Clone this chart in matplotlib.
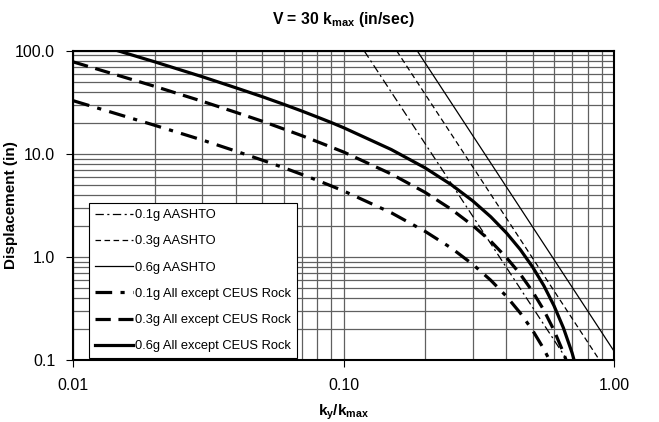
import matplotlib
matplotlib.use("Agg")
import matplotlib.pyplot as plt

plt.rcParams['font.family'] = ['Liberation Sans', 'DejaVu Sans']
plt.rcParams['mathtext.fontset'] = 'custom'
plt.rcParams['mathtext.rm'] = 'Liberation Sans'
plt.rcParams['mathtext.it'] = 'Liberation Sans:italic'
plt.rcParams['mathtext.bf'] = 'Liberation Sans:bold'
plt.rcParams['lines.scale_dashes'] = False

# AASHTO curves (straight lines on log-log), end points
aashto_01_ratio = [0.119, 0.671]
aashto_01_disp = [100.0, 0.1]
aashto_03_ratio = [0.157, 0.883]
aashto_03_disp = [100.0, 0.1]
aashto_06_ratio = [0.187, 1.0]
aashto_06_disp = [100.0, 0.122]

# "All except CEUS Rock" curves
ratio_01 = [0.01, 0.02, 0.03, 0.04, 0.05, 0.06, 0.07, 0.08, 0.09, 0.10,
            0.15, 0.20, 0.25, 0.30, 0.35, 0.40, 0.45, 0.50, 0.55, 0.60]
disp_01 = [32.7, 18.9, 13.6, 10.6, 8.68, 7.33, 6.31, 5.52, 4.88, 4.36,
           2.68, 1.77, 1.22, 0.849, 0.594, 0.415, 0.286, 0.194, 0.128, 0.0816]

ratio_03 = [0.01, 0.02, 0.03, 0.04, 0.05, 0.06, 0.07, 0.08, 0.09, 0.10,
            0.15, 0.20, 0.25, 0.30, 0.35, 0.40, 0.45, 0.50, 0.55, 0.60,
            0.65, 0.70]
disp_03 = [77.8, 45.1, 32.3, 25.2, 20.7, 17.4, 15.0, 13.1, 11.6, 10.4,
           6.37, 4.23, 2.90, 2.02, 1.42, 0.987, 0.681, 0.461, 0.305, 0.194,
           0.118, 0.0677]

ratio_06 = [0.01, 0.02, 0.03, 0.04, 0.05, 0.06, 0.07, 0.08, 0.09, 0.10,
            0.15, 0.20, 0.25, 0.30, 0.35, 0.40, 0.45, 0.50, 0.55, 0.60,
            0.65, 0.70, 0.75]
disp_06 = [134.6, 78.0, 55.9, 43.6, 35.8, 30.2, 26.0, 22.7, 20.1, 17.9,
           11.0, 7.31, 5.02, 3.50, 2.45, 1.71, 1.18, 0.798, 0.527, 0.336,
           0.205, 0.117, 0.0613]

x_ticks = [0.01, 0.1, 1.0]
x_tick_labels = ['0.01', '0.10', '1.00']
y_ticks = [0.1, 1.0, 10.0, 100.0]
y_tick_labels = ['0.1', '1.0', '10.0', '100.0']

fig = plt.figure(figsize=(6.59, 4.22), dpi=100)
ax = fig.add_axes([0.1112, 0.1469, 0.8205, 0.733])

thin = 0.9
thick = 2.3
ax.plot(aashto_01_ratio, aashto_01_disp, color='black', lw=thin,
        linestyle=(0, (6, 2.5, 1.5, 2.5)), label='0.1g AASHTO')
ax.plot(aashto_03_ratio, aashto_03_disp, color='black', lw=thin,
        linestyle=(0, (4, 2.5)), label='0.3g AASHTO')
ax.plot(aashto_06_ratio, aashto_06_disp, color='black', lw=thin,
        linestyle='-', label='0.6g AASHTO')
ax.plot(ratio_01, disp_01, color='black', lw=thick,
        linestyle=(0, (12, 6, 3, 6)), label='0.1g All except CEUS Rock')
ax.plot(ratio_03, disp_03, color='black', lw=thick,
        linestyle=(0, (11, 5.5)), label='0.3g All except CEUS Rock')
ax.plot(ratio_06, disp_06, color='black', lw=thick,
        linestyle='-', label='0.6g All except CEUS Rock')

ax.set_xscale('log')
ax.set_yscale('log')
ax.set_xlim(0.01, 1.0)
ax.set_ylim(0.1, 100.0)

ax.set_xticks(x_ticks)
ax.set_xticklabels(x_tick_labels)
ax.set_yticks(y_ticks)
ax.set_yticklabels(y_tick_labels)
ax.tick_params(axis='both', which='major', labelsize=11.5, length=5,
               width=0.8, direction='out', pad=8)
ax.tick_params(axis='both', which='minor', length=0)

ax.grid(True, which='both', color='#606060', linewidth=0.9)
ax.set_axisbelow(True)
for sp in ax.spines.values():
    sp.set_linewidth(1.5)
    sp.set_color('black')

ax.set_title(r'V = 30 k$_{\mathbf{max}}$ (in/sec)', fontsize=11.3,
             fontweight='bold', pad=19)
ax.set_xlabel(r'k$_{\mathbf{y}}$/k$_{\mathbf{max}}$', fontsize=11,
              fontweight='bold')
ax.xaxis.set_label_coords(0.5, -0.137)
ax.set_ylabel('Displacement (in)', fontsize=11, fontweight='bold')
ax.yaxis.set_label_coords(-0.103, 0.5)

leg = ax.legend(loc='lower left', bbox_to_anchor=(0.0296, 0.006),
                fontsize=9.3, frameon=True, fancybox=False, framealpha=1,
                edgecolor='black', handlelength=2.95, handletextpad=0.15,
                labelspacing=1.1, borderpad=0.45, borderaxespad=0)
leg.get_frame().set_linewidth(0.8)

fig.savefig('out.png', dpi=100)
